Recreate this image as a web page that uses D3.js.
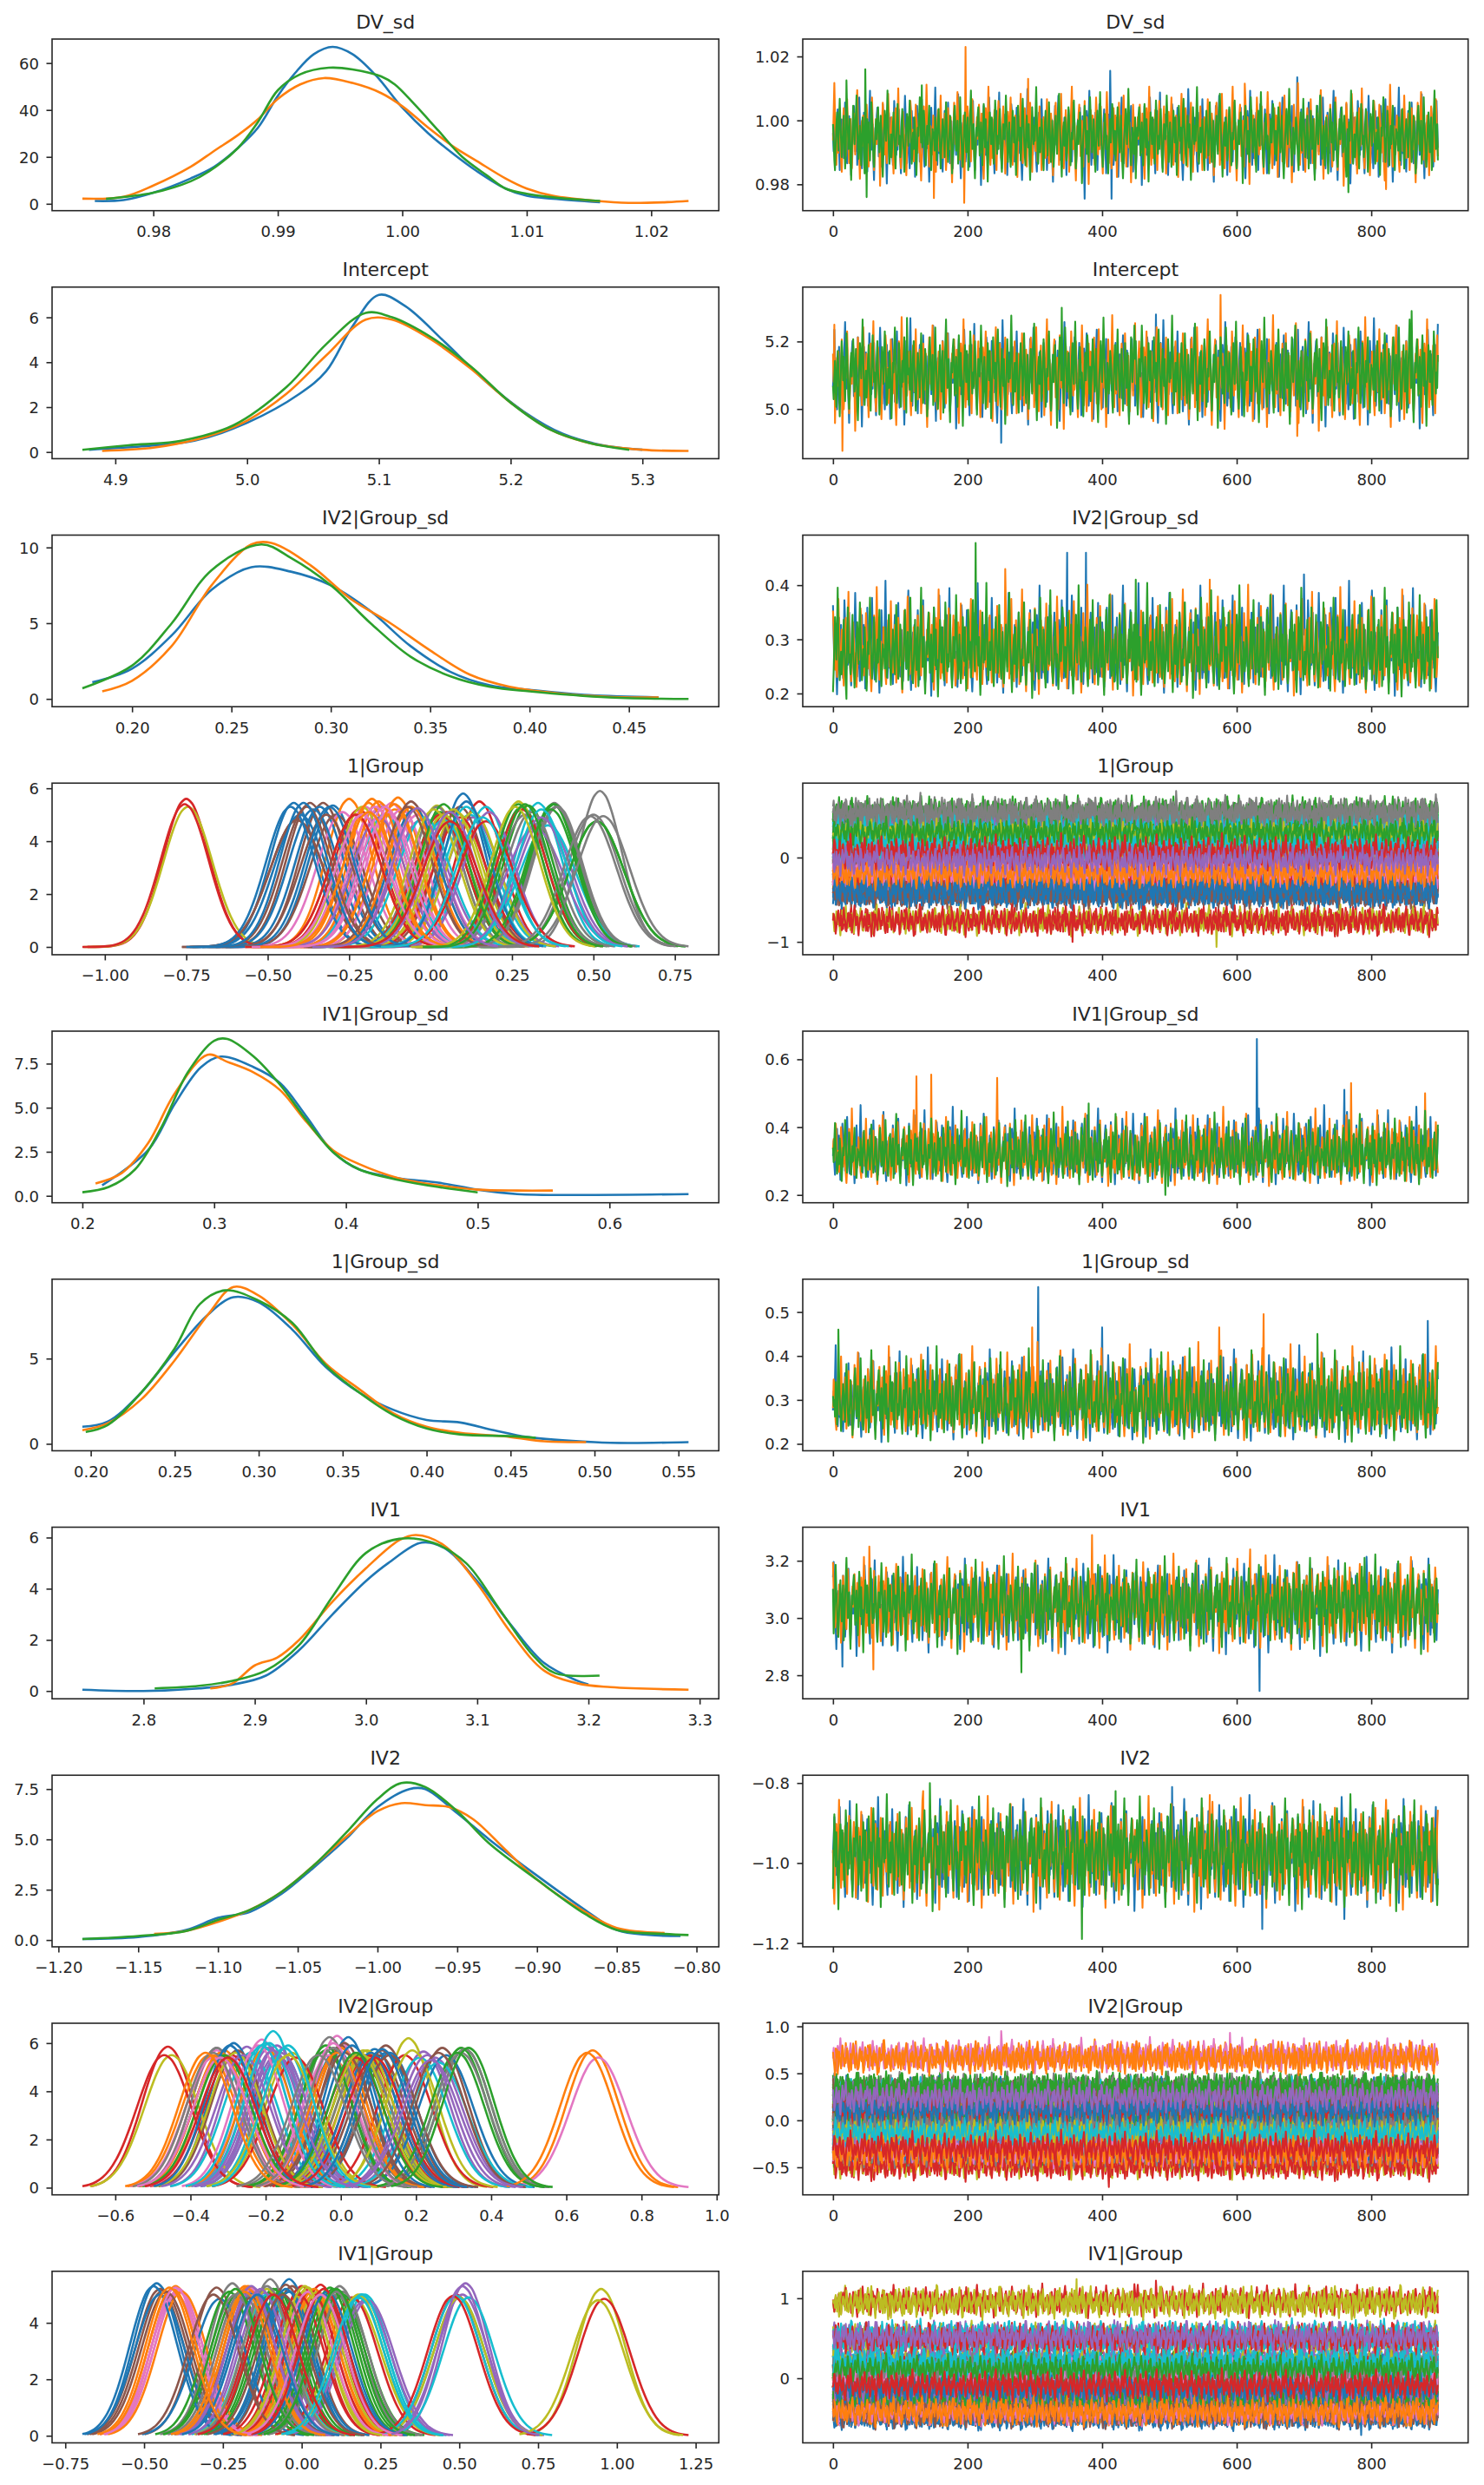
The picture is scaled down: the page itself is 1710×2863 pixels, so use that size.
<!DOCTYPE html>
<html><head><meta charset="utf-8">
<script src="https://cdn.jsdelivr.net/npm/d3@7"></script>
<style>
body{margin:0;background:#fff}
svg text{font-family:"DejaVu Sans",sans-serif;fill:#262626}
</style></head>
<body><svg id="chart" width="1710" height="2863"></svg>
<script>
// ---------------- DATA ----------------
const titles = ["DV_sd","Intercept","IV2|Group_sd","1|Group","IV1|Group_sd","1|Group_sd","IV1","IV2","IV2|Group","IV1|Group"];
const palette = d3.schemeCategory10;

const kdeXTicks = [
 ["0.98","0.99","1.00","1.01","1.02"],
 ["4.9","5.0","5.1","5.2","5.3"],
 ["0.20","0.25","0.30","0.35","0.40","0.45"],
 ["−1.00","−0.75","−0.50","−0.25","0.00","0.25","0.50","0.75"],
 ["0.2","0.3","0.4","0.5","0.6"],
 ["0.20","0.25","0.30","0.35","0.40","0.45","0.50","0.55"],
 ["2.8","2.9","3.0","3.1","3.2","3.3"],
 ["−1.20","−1.15","−1.10","−1.05","−1.00","−0.95","−0.90","−0.85","−0.80"],
 ["−0.6","−0.4","−0.2","0.0","0.2","0.4","0.6","0.8","1.0"],
 ["−0.75","−0.50","−0.25","0.00","0.25","0.50","0.75","1.00","1.25"]
];
const kdeYTicks = [
 ["0","20","40","60"],["0","2","4","6"],["0","5","10"],["0","2","4","6"],["0.0","2.5","5.0","7.5"],
 ["0","5"],["0","2","4","6"],["0.0","2.5","5.0","7.5"],["0","2","4","6"],["0","2","4"]
];
const traceXTicks = ["0","200","400","600","800"];
const traceYTicks = [
 ["0.98","1.00","1.02"],["5.0","5.2"],["0.2","0.3","0.4"],["−1","0"],["0.2","0.4","0.6"],
 ["0.2","0.3","0.4","0.5"],["2.8","3.0","3.2"],["−1.2","−1.0","−0.8"],["−0.5","0.0","0.5","1.0"],["0","1"]
];

// density curves of the scalar parameters, one list of [x, density] per chain (blue, orange, green)
const kdeDVsd = [
 [[0.9753,1.2],[0.9776,1.6],[0.98,4.7],[0.983,10.8],[0.9849,15.8],[0.9868,23.8],[0.9884,32.4],[0.99,46],[0.9914,55.8],[0.9929,63.8],[0.9944,66.9],[0.996,63.8],[0.9979,54.6],[1.0,41],[1.0021,30],[1.0041,21.3],[1.006,13.9],[1.0083,6.5],[1.01,3.4],[1.0121,2.2],[1.0159,0.7]],
 [[0.9743,2.2],[0.9776,3],[0.98,7.8],[0.983,15.8],[0.9849,22.6],[0.9868,29.3],[0.9884,36],[0.99,44.7],[0.9918,50.9],[0.9937,53.6],[0.996,51.5],[0.9983,47.2],[1.0,41.6],[1.0021,32.4],[1.0041,24.4],[1.006,18.2],[1.0083,10.8],[1.01,6.5],[1.0121,3.4],[1.0156,1.2],[1.0182,0.4],[1.0213,0.7],[1.023,1.2]],
 [[0.9762,2.1],[0.98,4.7],[0.983,9.6],[0.9845,13.9],[0.9868,23.8],[0.9884,34.8],[0.99,48.4],[0.9918,55.2],[0.9941,58],[0.996,57.3],[0.9983,54.3],[0.9994,50.9],[1.001,42.3],[1.0029,31.2],[1.0048,20.1],[1.0068,12.1],[1.0083,6.5],[1.01,4.3],[1.0121,2.8],[1.0159,1.2]]
];
const kdeIntercept = [
 [[4.88,0.1],[4.92,0.25],[4.96,0.5],[5.0,1.3],[5.04,2.6],[5.06,3.6],[5.08,5.6],[5.10,7.0],[5.12,6.5],[5.15,4.9],[5.18,3.2],[5.21,1.8],[5.24,0.8],[5.27,0.3],[5.30,0.1]],
 [[4.89,0.05],[4.93,0.2],[4.97,0.7],[5.0,1.4],[5.03,2.6],[5.06,4.3],[5.09,5.9],[5.11,5.9],[5.14,5.0],[5.17,3.7],[5.20,2.2],[5.23,1.0],[5.26,0.4],[5.30,0.1],[5.335,0.05]],
 [[4.875,0.1],[4.91,0.3],[4.95,0.5],[4.99,1.2],[5.03,2.9],[5.06,4.8],[5.09,6.2],[5.11,6.0],[5.14,5.1],[5.17,3.8],[5.20,2.2],[5.23,1.0],[5.26,0.4],[5.29,0.1]]
];
const kdeIV2sd = [
 [[0.18,1.1],[0.20,2.0],[0.22,4.2],[0.24,7.2],[0.26,8.7],[0.28,8.4],[0.30,7.5],[0.32,5.8],[0.34,3.5],[0.36,1.8],[0.38,0.9],[0.40,0.6],[0.43,0.25],[0.465,0.1]],
 [[0.185,0.5],[0.20,1.2],[0.22,3.5],[0.24,7.5],[0.26,10.2],[0.27,10.3],[0.29,8.8],[0.31,6.6],[0.33,5.0],[0.35,3.2],[0.37,1.6],[0.39,0.8],[0.42,0.3],[0.45,0.1],[0.465,0.1]],
 [[0.175,0.7],[0.20,2.2],[0.22,5.0],[0.24,8.5],[0.265,10.2],[0.28,9.3],[0.30,7.5],[0.32,5.0],[0.34,2.8],[0.36,1.5],[0.38,0.8],[0.40,0.5],[0.44,0.1],[0.48,0.0]]
];
const kdeIV1sd = [
 [[0.215,0.6],[0.25,2.6],[0.27,5.2],[0.29,7.3],[0.305,7.9],[0.33,7.3],[0.35,6.4],[0.37,4.5],[0.39,2.5],[0.41,1.5],[0.44,1.0],[0.47,0.75],[0.50,0.35],[0.53,0.1],[0.58,0.05],[0.66,0.1]],
 [[0.21,0.7],[0.23,1.3],[0.25,3.0],[0.27,5.8],[0.295,8.0],[0.31,7.6],[0.33,7.0],[0.35,6.0],[0.37,4.2],[0.39,2.6],[0.41,1.8],[0.44,1.0],[0.47,0.6],[0.50,0.35],[0.53,0.3],[0.557,0.3]],
 [[0.20,0.2],[0.22,0.5],[0.24,1.5],[0.26,3.9],[0.28,7.0],[0.30,8.8],[0.31,8.9],[0.33,7.9],[0.35,6.3],[0.37,4.3],[0.39,2.5],[0.41,1.5],[0.44,0.9],[0.47,0.5],[0.50,0.2]]
];
const kde1sd = [
 [[0.195,1.0],[0.21,1.3],[0.23,3.0],[0.25,5.4],[0.27,7.6],[0.285,8.6],[0.30,8.3],[0.32,6.7],[0.34,4.5],[0.36,3.0],[0.38,2.0],[0.40,1.4],[0.42,1.25],[0.44,0.8],[0.46,0.4],[0.50,0.1],[0.52,0.05],[0.556,0.1]],
 [[0.195,0.8],[0.21,1.2],[0.23,2.6],[0.25,4.9],[0.27,7.6],[0.285,9.2],[0.30,8.7],[0.32,7.0],[0.34,4.7],[0.36,3.2],[0.38,1.8],[0.40,1.0],[0.42,0.65],[0.45,0.4],[0.47,0.15],[0.495,0.1]],
 [[0.197,0.7],[0.21,1.1],[0.23,3.0],[0.25,5.6],[0.265,8.2],[0.28,9.0],[0.30,8.4],[0.32,7.1],[0.34,4.6],[0.36,3.0],[0.38,1.7],[0.40,0.9],[0.42,0.55],[0.45,0.45],[0.465,0.35]]
];
const kdeIV1 = [
 [[2.745,0.05],[2.80,0.0],[2.85,0.1],[2.88,0.25],[2.91,0.6],[2.94,1.6],[2.97,3.0],[3.00,4.3],[3.02,5.0],[3.05,5.8],[3.07,5.6],[3.10,4.3],[3.13,2.6],[3.16,1.1],[3.19,0.4],[3.20,0.25]],
 [[2.86,0.1],[2.88,0.3],[2.90,1.0],[2.92,1.3],[2.94,2.0],[2.97,3.5],[3.00,4.8],[3.03,5.9],[3.045,6.1],[3.07,5.7],[3.10,4.2],[3.13,2.3],[3.16,0.8],[3.19,0.3],[3.22,0.15],[3.29,0.05]],
 [[2.81,0.1],[2.85,0.2],[2.88,0.4],[2.91,0.8],[2.94,1.8],[2.97,3.7],[3.00,5.4],[3.03,5.95],[3.06,5.8],[3.09,5.0],[3.12,3.2],[3.15,1.4],[3.17,0.7],[3.21,0.6]]
];
const kdeIV2 = [
 [[-1.185,0.05],[-1.15,0.15],[-1.12,0.5],[-1.10,1.1],[-1.08,1.4],[-1.06,2.3],[-1.04,3.6],[-1.02,5.0],[-1.00,6.6],[-0.98,7.5],[-0.97,7.5],[-0.95,6.3],[-0.93,5.0],[-0.90,3.2],[-0.87,1.5],[-0.85,0.5],[-0.83,0.25],[-0.81,0.2]],
 [[-1.14,0.3],[-1.12,0.45],[-1.10,0.9],[-1.08,1.5],[-1.06,2.4],[-1.04,3.7],[-1.02,5.1],[-1.00,6.4],[-0.985,6.8],[-0.97,6.7],[-0.955,6.6],[-0.94,6.0],[-0.92,4.5],[-0.90,3.0],[-0.87,1.4],[-0.85,0.6],[-0.82,0.35]],
 [[-1.185,0.05],[-1.15,0.2],[-1.12,0.45],[-1.10,1.0],[-1.08,1.5],[-1.06,2.4],[-1.04,3.7],[-1.02,5.3],[-1.00,7.0],[-0.985,7.8],[-0.97,7.6],[-0.95,6.4],[-0.93,4.8],[-0.90,3.0],[-0.87,1.3],[-0.85,0.5],[-0.82,0.3],[-0.805,0.25]]
];

// per-group posterior summary: [centre, peak chain0, peak chain1, peak chain2, chain shift]
const groups1 = [
 [-0.42,5.45,4.8,5.3,0.01],[-0.05,5.2,5.0,5.3,0.01],[0.03,5.1,5.3,5.4,-0.01],[-0.75,5.6,5.3,5.4,0.005],[-0.15,5.3,5.0,4.9,0.01],
 [-0.33,5.45,5.3,5.0,-0.01],[-0.12,5.45,5.2,5.1,0.01],[0.38,5.45,5.4,5.3,-0.005],[0.02,5.35,5.0,5.2,0.01],[0.12,5.0,4.9,5.3,0.01],
 [0.10,5.8,5.3,5.5,-0.01],[-0.10,5.65,5.2,5.4,0.01],[0.38,5.4,5.3,5.2,0.01],[0.15,5.5,5.1,4.75,-0.02],[0.35,4.85,4.6,4.9,0.01],
 [-0.06,5.5,5.2,5.3,0.01],[-0.15,5.4,5.5,5.3,-0.01],[0.50,5.0,4.75,4.95,0.01],[0.08,5.1,4.9,5.2,0.01],[0.33,5.45,4.5,5.2,-0.01],
 [-0.30,5.35,5.0,5.3,0.01],[-0.25,5.6,5.1,5.0,-0.02],[0.28,5.3,5.0,5.4,0.01],[-0.22,5.2,5.3,5.0,0.01],[0.05,4.7,4.8,5.1,-0.01],
 [-0.37,5.45,5.2,5.3,0.01],[-0.20,5.3,5.45,5.0,0.01],[0.52,5.9,4.75,4.95,-0.01],[0.27,5.5,5.2,5.3,0.01],[0.17,5.3,5.1,4.9,0.01],
 [-0.40,5.0,4.8,5.45,-0.01],[-0.18,5.6,5.3,5.1,0.01],[0.30,5.35,5.1,5.4,0.01],[0.05,5.1,5.0,4.75,-0.01],[-0.03,4.8,4.9,5.25,0.01]
];
const groupsIV2 = [
 [0.09,5.75,5.5,5.6,0.01],[-0.31,5.7,5.5,5.6,0.01],[-0.32,5.5,5.8,5.5,-0.01],[-0.46,5.85,5.5,5.5,0.01],[-0.25,5.85,5.6,5.5,0.01],
 [0.00,5.9,5.7,5.6,-0.01],[-0.21,6.15,5.8,5.9,0.01],[-0.33,5.8,5.5,5.6,0.01],[0.18,6.2,5.5,5.7,-0.01],[-0.18,6.5,5.9,6.0,0.01],
 [-0.285,6.0,5.7,5.9,0.01],[-0.02,5.3,5.5,5.6,-0.01],[0.32,5.8,5.75,5.6,0.01],[0.05,5.6,5.5,5.4,0.01],[0.22,5.65,5.4,5.5,-0.01],
 [0.12,5.9,5.6,5.7,0.01],[-0.01,6.3,5.8,6.0,0.01],[-0.03,6.25,5.9,5.8,-0.01],[0.06,5.7,5.5,5.6,0.01],[-0.20,6.0,5.8,5.9,0.01],
 [0.02,6.25,6.0,5.9,-0.01],[0.67,5.7,5.4,5.6,0.015],[0.05,5.5,5.3,5.6,0.01],[0.08,5.5,5.7,5.4,-0.01],[-0.17,5.5,5.6,5.7,0.01],
 [0.27,5.8,5.5,5.6,0.01],[-0.33,5.7,5.5,5.4,-0.01],[-0.05,5.6,5.7,5.5,0.01],[-0.13,5.6,5.4,5.5,0.01],[-0.15,5.8,5.6,5.9,-0.01],
 [0.12,5.6,5.5,5.75,0.01],[-0.35,5.5,5.4,5.6,0.01],[0.33,5.75,5.6,5.8,-0.01],[-0.29,5.5,5.6,5.4,0.01],[0.25,5.4,5.2,5.3,0.01]
];
const groupsIV1 = [
 [-0.46,5.4,5.2,5.3,0.01],[-0.40,5.3,5.1,5.2,0.01],[-0.08,5.2,5.0,5.1,-0.01],[0.00,5.3,5.1,5.0,0.01],[-0.15,5.2,5.0,5.1,0.01],
 [-0.44,5.15,5.0,5.1,-0.01],[-0.39,5.2,5.1,5.25,0.01],[-0.10,5.55,5.2,5.3,0.01],[0.17,4.8,4.9,5.0,-0.01],[0.50,4.9,5.0,4.95,0.01],
 [-0.04,5.55,5.3,5.2,0.01],[-0.18,5.3,5.1,5.2,-0.01],[0.10,5.2,5.0,5.25,0.01],[0.49,5.0,4.9,4.95,0.01],[-0.17,5.2,5.1,5.3,-0.01],
 [-0.27,5.25,4.85,5.0,0.01],[0.03,5.15,5.0,5.1,0.01],[-0.22,5.4,5.1,5.0,-0.01],[0.02,5.25,5.1,5.3,0.01],[0.20,5.0,4.8,5.0,0.01],
 [0.07,5.0,4.9,5.1,-0.01],[-0.17,5.3,5.2,5.1,0.01],[-0.20,5.05,5.1,5.2,0.01],[0.06,5.35,5.1,5.2,-0.01],[-0.12,5.05,5.0,5.2,0.01],
 [-0.05,5.35,5.1,5.0,0.01],[0.05,5.1,5.2,5.0,-0.01],[0.12,5.3,5.0,5.1,0.01],[0.95,5.2,4.85,4.8,0.01],[0.19,5.0,4.8,4.9,0.01],
 [-0.15,5.1,4.9,5.0,-0.01],[-0.41,5.2,5.0,5.25,0.01],[0.12,5.0,5.1,5.2,0.01],[-0.10,5.05,5.2,5.0,-0.01],[0.52,5.4,4.9,5.3,0.01]
];
// how far (in posterior sd) the group curves reach left / right, per group variable
const kdeReach1 = [4.3, 3.3];
const kdeReachIV2 = [3.1, 3.4];
const kdeReachIV1 = [3.2, 3.3];

// normalised density profile of one group curve (offset in posterior sd, relative height)
const kdeProfile = [[-4.5,0.00004],[-4.25,0.00012],[-4,0.00034],[-3.75,0.00088],[-3.5,0.0022],[-3.25,0.0051],[-3,0.0111],[-2.75,0.0228],[-2.5,0.0439],[-2.25,0.0796],[-2,0.1353],[-1.75,0.2163],[-1.5,0.3247],[-1.25,0.4578],[-1,0.6065],[-0.75,0.7548],[-0.5,0.8825],[-0.25,0.9692],
 [0,1],[0.25,0.9692],[0.5,0.8825],[0.75,0.7548],[1,0.6065],[1.25,0.4578],[1.5,0.3247],[1.75,0.2163],[2,0.1353],[2.25,0.0796],[2.5,0.0439],[2.75,0.0228],[3,0.0111],[3.25,0.0051],[3.5,0.0022],[3.75,0.00088],[4,0.00034],[4.25,0.00012],[4.5,0.00004]];

// sampler wiggle estimated from the traces (one value per draw; WIGGLE_SD units = one posterior sd)
const wiggle = [
 3,-8,12,5,-14,-2,9,17,4,-6,-19,-7,2,11,6,-3,-12,8,21,10,-4,-15,-9,1,13,7,-5,-22,-11,0,
 14,19,6,-8,-3,10,-16,-6,4,24,9,-1,-13,-18,-4,7,15,2,-9,5,12,-20,-10,3,16,28,11,-7,-2,8,
 -14,-25,-8,6,1,13,18,4,-11,-5,9,-3,-17,2,20,7,-6,11,-1,-12,-27,-10,5,15,8,-4,12,3,-9,-16,
 6,22,14,-2,-10,1,-7,10,17,5,-13,-21,-6,8,3,-1,11,25,13,-4,-15,0,9,-8,-18,-11,4,16,7,-3,
 12,-5,-23,-9,2,19,8,-2,6,-14,-7,15,23,10,-1,-10,-17,5,13,1,-6,8,-11,-26,-12,3,18,9,-4,7,
 -2,14,30,12,-8,-16,-3,6,-9,1,11,4,-13,-20,-5,9,16,7,-1,-11,2,21,8,-6,-15,-4,10,-2,-18,-8,
 5,13,1,-10,7,17,26,11,-3,-12,-24,-7,4,9,-5,12,2,-14,-8,6,18,10,-2,-17,-9,3,-1,14,22,8,
 -6,-19,-11,2,10,-4,7,15,3,-8,-28,-13,1,8,19,12,-3,-10,4,-7,-15,6,24,13,0,-9,-4,11,5,-12,
 -21,-6,9,16,2,-5,12,27,9,-2,-11,-18,-8,3,14,6,-7,1,-13,-22,-9,5,11,-3,8,20,15,-1,-10,4,
 -14,-5,7,18,10,-3,-9,2,13,-6,-16,-25,-12,0,9,17,5,-4,11,29,14,3,-8,-17,-7,6,1,-10,-3,12,
 8,-2,-14,-20,-5,7,15,4,-8,10,23,9,-1,-12,-6,5,13,-3,-19,-11,2,16,6,-7,-2,11,-15,-26,-9,4,
 19,10,-4,3,14,25,8,-6,-13,-1,7,-9,-17,2,12,5,-10,-22,-8,6,17,11,-3,9,-5,-14,1,21,13,-2,
 -11,-18,-7,4,11,-1,8,18,6,-9,-4,13,3,-15,-24,-10,5,16,9,-2,12,28,10,-6,-16,-8,2,-12,-5,7,
 15,4,-9,-19,-3,10,20,7,-4,1,-12,-7,9,17,2,-8,-21,-13,0,8,14,6,-5,11,22,9,-2,-16,-10,3,
 -7,12,5,-11,-23,-8,6,1,13,24,11,-3,-15,-6,4,16,8,-10,-17,-1,7,-4,10,19,3,-9,-20,-6,5,0
];
const WIGGLE_SD = 11;

// scalar traces: per chain [level, spread below, spread above, start in wiggle]
const traceDVsd = [[0.9945,0.0058,0.0058,0],[0.9948,0.006,0.0062,150],[0.9946,0.0056,0.0058,300]];
const traceIntercept = [[5.10,0.062,0.062,37],[5.098,0.064,0.066,187],[5.102,0.062,0.064,337]];
const traceIV2sd = [[0.272,0.03,0.05,74],[0.27,0.029,0.048,224],[0.268,0.03,0.05,374]];
const traceIV1sd = [[0.315,0.034,0.055,111],[0.31,0.033,0.055,261],[0.312,0.034,0.05,411]];
const trace1sd = [[0.288,0.033,0.05,148],[0.29,0.032,0.052,298],[0.286,0.033,0.05,448]];
const traceIV1 = [[3.04,0.068,0.066,185],[3.045,0.066,0.066,335],[3.042,0.066,0.066,35]];
const traceIV2 = [[-0.98,0.055,0.055,222],[-0.982,0.055,0.055,372],[-0.978,0.056,0.055,72]];
// isolated excursions: [chain, draw, value]
const spikesDVsd = [[1,197,1.023],[1,195,0.9742],[0,412,1.0155],[0,374,0.9755],[0,414,0.9755],[2,48,1.016],[2,50,0.976],[2,766,0.9775],[1,150,0.9757],[1,822,0.9785],[2,20,1.0125],[1,290,1.013],[0,690,1.0135],[2,132,1.011],[1,612,1.0115]];
const spikesIntercept = [[1,576,5.338],[1,14,4.876],[1,2,5.25],[0,250,4.9],[2,340,5.3],[2,110,5.27],[0,480,5.28],[1,690,4.92],[2,860,5.29]];
const spikesIV2sd = [[2,212,0.478],[0,348,0.46],[0,376,0.46],[1,256,0.43],[2,20,0.19],[1,560,0.41],[0,700,0.42],[2,450,0.41]];
const spikesIV1sd = [[0,630,0.66],[1,124,0.55],[1,146,0.555],[1,244,0.545],[2,494,0.2],[1,770,0.53],[0,760,0.51],[2,380,0.47],[1,880,0.5]];
const spikes1sd = [[0,305,0.557],[1,640,0.495],[2,8,0.46],[0,884,0.48],[1,296,0.465],[1,574,0.465],[0,400,0.465],[2,720,0.45]];
const spikesIV1 = [[0,634,2.745],[1,385,3.29],[1,54,3.25],[0,14,2.83],[1,60,2.82],[2,790,3.21],[2,280,2.81],[0,860,3.2],[1,620,3.24]];
const spikesIV2 = [[2,370,-1.19],[2,144,-0.8],[0,638,-1.165],[0,504,-0.81],[1,134,-0.82],[2,420,-0.82],[1,560,-0.83],[0,760,-1.14]];
// group traces excursions: [group, chain, draw, value]
const gSpikes1 = [[3,1,570,-1.06],[27,2,510,0.79],[27,2,130,0.77],[3,2,356,-1.0]];
const gSpikesIV2 = [[21,1,250,0.95],[3,2,410,-0.71],[21,1,590,0.93]];
const gSpikesIV1 = [[28,2,362,1.24],[0,2,785,-0.71],[28,1,480,1.22]];

// ---------------- DRAWING ----------------
const svg = d3.select("#chart");
const colX = [[60, 828.3], [925, 1691.7]];
const rowTop0 = 45, rowStep = 285.75, axH = 197.7;
const TICK_FS = 18, TITLE_FS = 22;
const ink = "#262626";
const NDRAWS = 900;

const pad = e => { const r = e[1] - e[0]; return [e[0] - 0.05 * r, e[1] + 0.05 * r]; };
const tickVal = s => +s.replace("−", "-");
const chainShift = [0, 1, -1];
const N = wiggle.length;
// read the wiggle in order; the second pass starts elsewhere in the list
const wig = (off, i) => wiggle[(off + i + Math.floor(i / N) * 211) % N] / WIGGLE_SD;

function scalarTrace(params, spikes) {
  return params.map(([lev, dn, up, off], k) => {
    const v = [];
    for (let i = 0; i < NDRAWS; i++) { const w = wig(off, i); v.push(lev + (w >= 0 ? up : dn) * w); }
    spikes.filter(s => s[0] === k).forEach(s => { v[s[1]] = s[2]; });
    return { color: palette[k], pts: v.map((y, i) => [i, y]) };
  });
}
function groupKde(groups, reach) {
  const out = [];
  const G = groups.length;
  for (let k = 0; k < 3; k++) groups.forEach((row, g) => {
    const peak = row[1 + k], sd = 1 / (peak * Math.sqrt(2 * Math.PI));
    const c = row[0] + row[4] * chainShift[k];
    const prof = kdeProfile.filter(([t]) => t >= -reach[0] - 1e-9 && t <= reach[1] + 1e-9);
    out.push({ color: palette[(k * G + g) % 10], pts: prof.map(([t, h]) => [c + t * sd, h * peak]) });
  });
  return out;
}
function groupTrace(groups, spikes) {
  const out = [];
  const G = groups.length;
  for (let k = 0; k < 3; k++) groups.forEach((row, g) => {
    const peak = row[1 + k], sd = 1 / (peak * Math.sqrt(2 * Math.PI));
    const c = row[0] + row[4] * chainShift[k];
    const off = (g * 53 + k * 157) % N;
    const v = [];
    for (let i = 0; i < NDRAWS; i++) v.push(c + sd * wig(off, i));
    spikes.filter(s => s[0] === g && s[1] === k).forEach(s => { v[s[2]] = s[3]; });
    out.push({ color: palette[(k * G + g) % 10], pts: v.map((y, i) => [i, y]) });
  });
  return out;
}
const asSeries = curves => curves.map((pts, k) => ({ color: palette[k], pts }));

const leftSeries = [
  asSeries(kdeDVsd), asSeries(kdeIntercept), asSeries(kdeIV2sd), groupKde(groups1, kdeReach1), asSeries(kdeIV1sd),
  asSeries(kde1sd), asSeries(kdeIV1), asSeries(kdeIV2), groupKde(groupsIV2, kdeReachIV2), groupKde(groupsIV1, kdeReachIV1)
];
const rightSeries = [
  scalarTrace(traceDVsd, spikesDVsd), scalarTrace(traceIntercept, spikesIntercept), scalarTrace(traceIV2sd, spikesIV2sd),
  groupTrace(groups1, gSpikes1), scalarTrace(traceIV1sd, spikesIV1sd), scalarTrace(trace1sd, spikes1sd),
  scalarTrace(traceIV1, spikesIV1), scalarTrace(traceIV2, spikesIV2), groupTrace(groupsIV2, gSpikesIV2), groupTrace(groupsIV1, gSpikesIV1)
];

function panel(col, row, series, xTicks, yTicks, title, smooth, lw) {
  const [x0, x1] = colX[col];
  const top = rowTop0 + row * rowStep, bottom = top + axH;
  const xs = series.flatMap(s => s.pts.map(p => p[0]));
  const ys = series.flatMap(s => s.pts.map(p => p[1]));
  const x = d3.scaleLinear().domain(pad(d3.extent(xs))).range([x0, x1]);
  const y = d3.scaleLinear().domain(pad(d3.extent(ys))).range([bottom, top]);
  const g = svg.append("g");
  const line = d3.line().x(p => x(p[0])).y(p => y(p[1])).curve(smooth ? d3.curveCatmullRom.alpha(0.5) : d3.curveLinear);
  g.append("g").selectAll("path").data(series).join("path")
    .attr("d", s => line(s.pts)).attr("fill", "none").attr("stroke", s => s.color)
    .attr("stroke-width", lw).attr("stroke-linejoin", "round").attr("stroke-linecap", "butt");

  const ax = g.append("g").attr("transform", `translate(0,${bottom})`)
    .call(d3.axisBottom(x).tickValues(xTicks.map(tickVal)).tickFormat((d, i) => xTicks[i]).tickSizeOuter(0).tickSize(6.5));
  const ay = g.append("g").attr("transform", `translate(${x0},0)`)
    .call(d3.axisLeft(y).tickValues(yTicks.map(tickVal)).tickFormat((d, i) => yTicks[i]).tickSizeOuter(0).tickSize(6.5));
  [ax, ay].forEach(a => {
    a.select(".domain").remove();
    a.attr("font-family", null).attr("font-size", null);
    a.selectAll("line").attr("stroke", ink).attr("stroke-width", 1.6);
    a.selectAll("text").attr("fill", ink).style("font-size", TICK_FS + "px");
  });
  ax.selectAll("text").attr("y", 30.4).attr("dy", null);
  ay.selectAll("text").attr("x", -15).attr("dy", "0.36em");

  g.append("rect").attr("x", x0).attr("y", top).attr("width", x1 - x0).attr("height", axH)
    .attr("fill", "none").attr("stroke", ink).attr("stroke-width", 1.6);
  g.append("text").attr("x", (x0 + x1) / 2).attr("y", top - 12.5).attr("text-anchor", "middle")
    .style("font-size", TITLE_FS + "px").text(title);
}

titles.forEach((t, r) => {
  panel(0, r, leftSeries[r], kdeXTicks[r], kdeYTicks[r], t, true, 2.6);
  panel(1, r, rightSeries[r], traceXTicks, traceYTicks[r], t, false, 2.1);
});
</script>
</body></html>
